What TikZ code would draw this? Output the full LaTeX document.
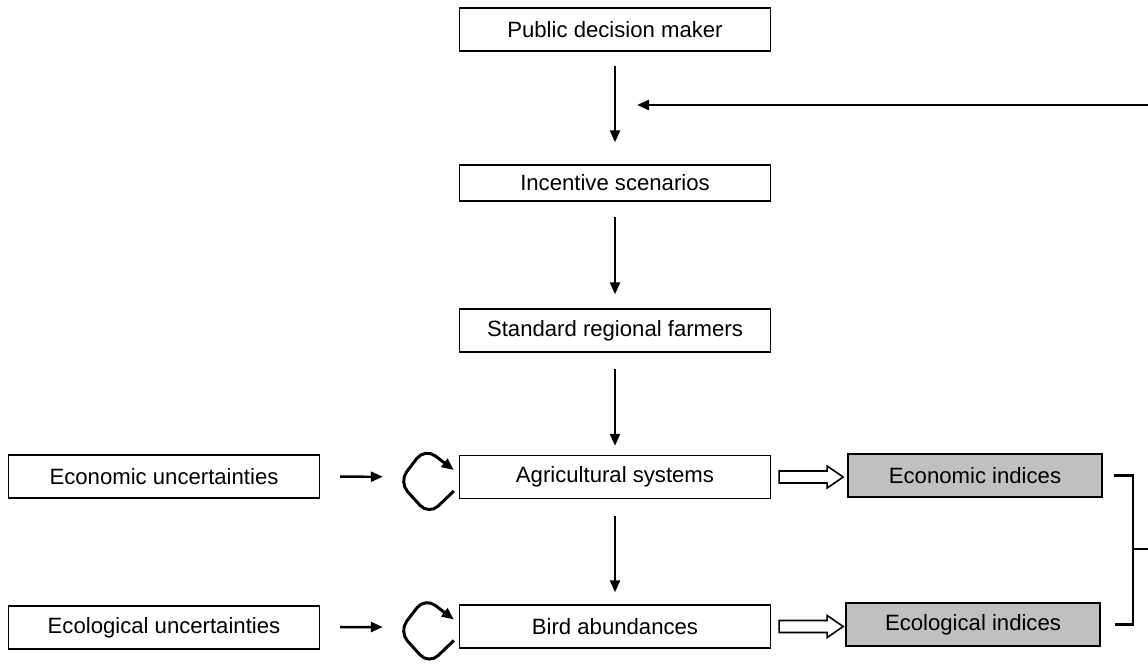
\documentclass[tikz,border=0pt]{standalone}
\usepackage{fontspec}
\setmainfont{Liberation Sans}
\usetikzlibrary{arrows.meta}
\definecolor{idxgray}{RGB}{192,192,192}
\tikzset{
  box/.style={draw,line width=0.8pt,inner sep=0pt,minimum width=6.22cm,minimum height=0.86cm,font=\fontsize{12.6}{15}\selectfont},
  idxbox/.style={box,fill=idxgray,minimum width=5.08cm},
  flow/.style={-{Triangle[length=0.24cm,width=0.2cm]},line width=1.4pt},
  loopback/.style={flow,line width=1.7pt,rounded corners=0.26cm},
  hollow/.style={line width=0.9pt,line join=miter},
  bracket/.style={line width=1.4pt}
}

\begin{document}
\begin{tikzpicture}[x=0.02cm,y=-0.02cm]
  \useasboundingbox (0,0) rectangle (1148,666);
  \node[box] (pdm) at (615,29.5) {Public decision maker};
  \node[box,minimum height=0.72cm] (inc) at (615,183) {Incentive scenarios};
  \node[box] (std) at (615,330.5) {Standard regional farmers};
  \node[box] (agri) at (615,477) {Agricultural systems};
  \node[box] (bird) at (615,626.5) {Bird abundances};
  \node[box] (ecoU) at (164,476.5) {Economic uncertainties};
  \node[box] (ecolU) at (164,627.5) {Ecological uncertainties};
  \node[idxbox] (ecoI) at (975,475.5) {Economic indices};
  \node[idxbox] (ecolI) at (973,624.5) {Ecological indices};
  \coordinate (fbin) at (1148,105);
  \coordinate (fbtip) at (637,105);
  \coordinate (brk) at (1133,549);
  \coordinate (brkout) at (1148,549);

  \draw[flow,shorten <=0.28cm,shorten >=0.44cm] (pdm) -- (inc);
  \draw[flow,shorten <=0.3cm,shorten >=0.28cm] (inc) -- (std);
  \draw[flow,shorten <=0.32cm,shorten >=0.18cm] (std) -- (agri);
  \draw[flow,shorten <=0.34cm,shorten >=0.24cm] (agri) -- (bird);
  \draw[flow] (fbin) -- (fbtip);
  \draw[flow,shorten <=0.4cm,shorten >=1.52cm] (ecoU) -- (agri);
  \draw[flow,shorten <=0.4cm,shorten >=1.52cm] (ecolU) -- (bird);

  % self loops
  \draw[loopback,shift={(agri.west)}] (-5,14) -- (-30,38) -- (-60,5) -- (-34,-29) -- (-5,-7);
  \draw[loopback,shift={(bird.west)}] (-5,14) -- (-30,38) -- (-60,5) -- (-34,-29) -- (-5,-7);

  % open arrows to the indices
  \draw[hollow,shift={(agri.east)}] (8,-6) -- (56,-6) -- (56,-11) -- (72,0) -- (56,11) -- (56,6) -- (8,6) -- cycle;
  \draw[hollow,shift={(bird.east)}] (8,-6) -- (56,-6) -- (56,-11) -- (72,0) -- (56,11) -- (56,6) -- (8,6) -- cycle;

  \draw[bracket,shorten <=0.22cm,shorten >=0.28cm] (ecoI.east) -- (ecoI.east -| brk) -- (ecolI.east -| brk) -- (ecolI.east);
  \draw[bracket] (brk) -- (brkout);
\end{tikzpicture}
\end{document}
